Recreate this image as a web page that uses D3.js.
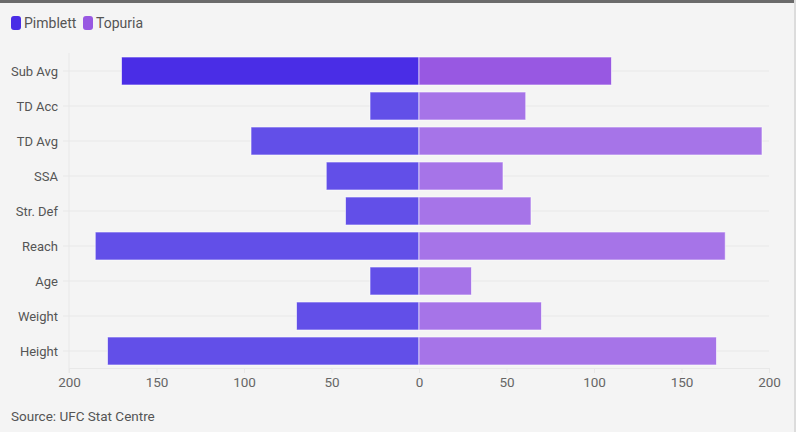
<!DOCTYPE html>
<html>
<head>
<meta charset="utf-8">
<script src="https://cdn.jsdelivr.net/npm/d3@7"></script>
<style>
  body { margin: 0; background: #f4f4f4; }
  svg { display: block; }
</style>
</head>
<body>
<div id="chart"></div>
<script>
// data
const categories = ["Sub Avg", "TD Acc", "TD Avg", "SSA", "Str. Def", "Reach", "Age", "Weight", "Height"];
const pimblett = [170, 28, 96, 53, 42, 185, 28, 70, 178];
const topuria = [110, 61, 196, 48, 64, 175, 30, 70, 170];
const seriesNames = ["Pimblett", "Topuria"];
const tickValues = [-200, -150, -100, -50, 0, 50, 100, 150, 200];

const W = 796, H = 432;
const colors = {P: "#624fe8", T: "#a674e8", Phi: "#4a2de6", Thi: "#9858e2"};
const font = "Roboto, 'Open Sans', sans-serif";

var svg = d3.select("#chart")
  .append("svg")
  .attr("width", W)
  .attr("height", H)
  .style("background", "#f4f4f4");

// frame lines
svg.append("rect").attr("x", 0).attr("y", 0).attr("width", 794).attr("height", 3).style("fill", "#6b6b6b");
svg.append("rect").attr("x", 794).attr("y", 0).attr("width", 2).attr("height", H).style("fill", "#dcdcdc");

const x = d3.scaleLinear()
  .domain([-200, 200])
  .range([69, 769]);

const y = d3.scaleBand()
  .domain(categories)
  .range([53.5, 368.5])
  .paddingInner(0.2)
  .paddingOuter(0.1);

// horizontal gridlines at category centres
svg.append("g").selectAll("line")
  .data(categories)
  .enter().append("line")
  .attr("x1", 63)
  .attr("x2", 769)
  .attr("y1", d => y(d) + y.bandwidth() / 2)
  .attr("y2", d => y(d) + y.bandwidth() / 2)
  .style("stroke", "#e8e8e8")
  .style("stroke-width", 1);

// left vertical line
svg.append("line")
  .attr("x1", x(-200)).attr("x2", x(-200))
  .attr("y1", 53).attr("y2", 373)
  .style("stroke", "#e8e8e8");

// bottom axis line
svg.append("line")
  .attr("x1", x(-200)).attr("x2", x(200))
  .attr("y1", 368.5).attr("y2", 368.5)
  .style("stroke", "#e8e8e8");

// x axis
var xAxis = svg.append("g")
  .attr("transform", "translate(0,368)")
  .call(d3.axisBottom(x).tickValues(tickValues).tickSize(5).tickFormat(d => Math.abs(d)));
xAxis.select(".domain").remove();
xAxis.selectAll(".tick line").style("stroke", "#e8e8e8");
xAxis.selectAll(".tick text")
  .attr("y", 9)
  .style("font-family", font)
  .style("font-size", "13.5px")
  .style("fill", "#666");

// y labels
svg.append("g").selectAll("text")
  .data(categories)
  .enter().append("text")
  .attr("x", 58)
  .attr("y", d => y(d) + y.bandwidth() / 2)
  .attr("dy", "0.35em")
  .attr("text-anchor", "end")
  .style("font-family", font)
  .style("font-size", "13px")
  .style("fill", "#555")
  .text(d => d);

// bars
svg.append("g").selectAll("rect")
  .data(categories)
  .enter().append("rect")
  .attr("x", (d, i) => x(-pimblett[i]))
  .attr("y", d => y(d))
  .attr("width", (d, i) => x(0) - x(-pimblett[i]))
  .attr("height", y.bandwidth())
  .style("fill", (d, i) => i === 0 ? colors.Phi : colors.P)
  .style("stroke", "rgba(255,255,255,0.6)")
  .style("stroke-width", 1);

svg.append("g").selectAll("rect")
  .data(categories)
  .enter().append("rect")
  .attr("x", x(0))
  .attr("y", d => y(d))
  .attr("width", (d, i) => x(topuria[i]) - x(0))
  .attr("height", y.bandwidth())
  .style("fill", (d, i) => i === 0 ? colors.Thi : colors.T)
  .style("stroke", "rgba(255,255,255,0.6)")
  .style("stroke-width", 1);

// legend
var legendX = [11, 83];
var leg = svg.selectAll(".leg")
  .data(seriesNames)
  .enter().append("g")
  .attr("class", "leg")
  .attr("transform", (d, i) => "translate(" + legendX[i] + ",16)");
leg.append("rect")
  .attr("width", 10)
  .attr("height", 14)
  .attr("rx", 3)
  .style("fill", (d, i) => i === 0 ? colors.Phi : colors.Thi);
leg.append("text")
  .attr("x", 13)
  .attr("y", 12)
  .style("font-family", font)
  .style("font-size", "14px")
  .style("fill", "#555")
  .text(d => d);

// source
svg.append("text")
  .attr("x", 11)
  .attr("y", 421)
  .style("font-family", font)
  .style("font-size", "13.5px")
  .style("fill", "#555")
  .text("Source: UFC Stat Centre");
</script>
</body>
</html>
